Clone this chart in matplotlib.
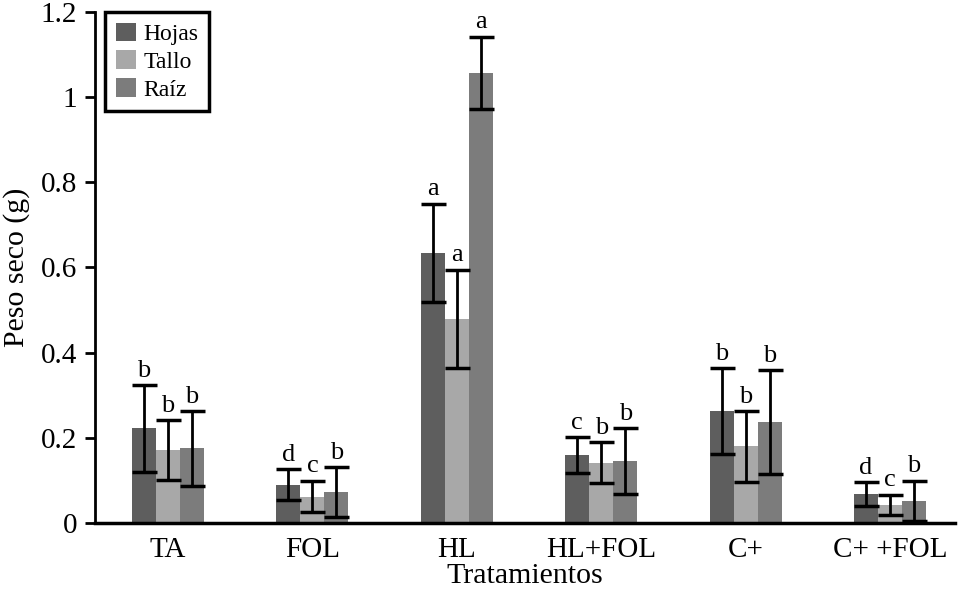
import matplotlib
matplotlib.use("Agg")
import matplotlib.pyplot as plt
import numpy as np

plt.rcParams['font.family'] = ['Liberation Serif', 'DejaVu Serif']

categories = ["TA", "FOL", "HL", "HL+FOL", "C+", "C+ +FOL"]
series = ["Hojas", "Tallo", "Raíz"]
hojas = [0.222, 0.090, 0.635, 0.160, 0.263, 0.068]
tallo = [0.172, 0.062, 0.480, 0.142, 0.180, 0.042]
raiz = [0.175, 0.073, 1.057, 0.145, 0.237, 0.052]
hojas_err = [0.102, 0.037, 0.115, 0.042, 0.100, 0.028]
tallo_err = [0.070, 0.037, 0.115, 0.048, 0.083, 0.024]
raiz_err = [0.088, 0.058, 0.085, 0.078, 0.122, 0.047]
hojas_lab = ["b", "d", "a", "c", "b", "d"]
tallo_lab = ["b", "c", "a", "b", "b", "c"]
raiz_lab = ["b", "b", "a", "b", "b", "b"]

colors = ["#5e5e5e", "#a8a8a8", "#7c7c7c"]
values = [hojas, tallo, raiz]
errs = [hojas_err, tallo_err, raiz_err]
labs = [hojas_lab, tallo_lab, raiz_lab]

fig = plt.figure(figsize=(9.63, 5.95), dpi=100)
ax = fig.add_axes([0.0987, 0.121, 0.893, 0.859])

x = np.arange(len(categories))
w = 0.166
for i in range(3):
    xs = x + (i - 1) * w
    ax.bar(xs, values[i], w, color=colors[i], label=series[i])
    ax.errorbar(xs, values[i], yerr=errs[i], fmt='none', ecolor='black',
                elinewidth=2, capsize=9, capthick=2.5)
    for xi, v, e, t in zip(xs, values[i], errs[i], labs[i]):
        ax.text(xi, v + e + 0.008, t, ha='center', va='bottom', fontsize=19)

ax.set_xlim(-0.505, 5.45)
ax.set_ylim(0, 1.2)
ax.set_yticks([0, 0.2, 0.4, 0.6, 0.8, 1.0, 1.2])
ax.set_yticklabels(["0", "0.2", "0.4", "0.6", "0.8", "1", "1.2"])
ax.set_xticks(x)
ax.set_xticklabels(categories)
ax.tick_params(axis='y', labelsize=21, width=2, length=7, direction='out', pad=6)
ax.tick_params(axis='x', labelsize=21, length=0, pad=10)
ax.spines['top'].set_visible(False)
ax.spines['right'].set_visible(False)
ax.spines['left'].set_linewidth(2)
ax.spines['bottom'].set_linewidth(2.5)
ax.set_ylabel("Peso seco (g)", fontsize=21.5, labelpad=8)
ax.set_xlabel("Tratamientos", fontsize=21.5, labelpad=0)

leg = ax.legend(loc='upper left', bbox_to_anchor=(0.012, 1.0), fontsize=17,
                fancybox=False, framealpha=1, edgecolor='black',
                handlelength=0.85, handleheight=0.85, handletextpad=0.3,
                labelspacing=0.22, borderpad=0.45, borderaxespad=0.0)
leg.get_frame().set_linewidth(2.5)

fig.savefig("out.png", dpi=100)
